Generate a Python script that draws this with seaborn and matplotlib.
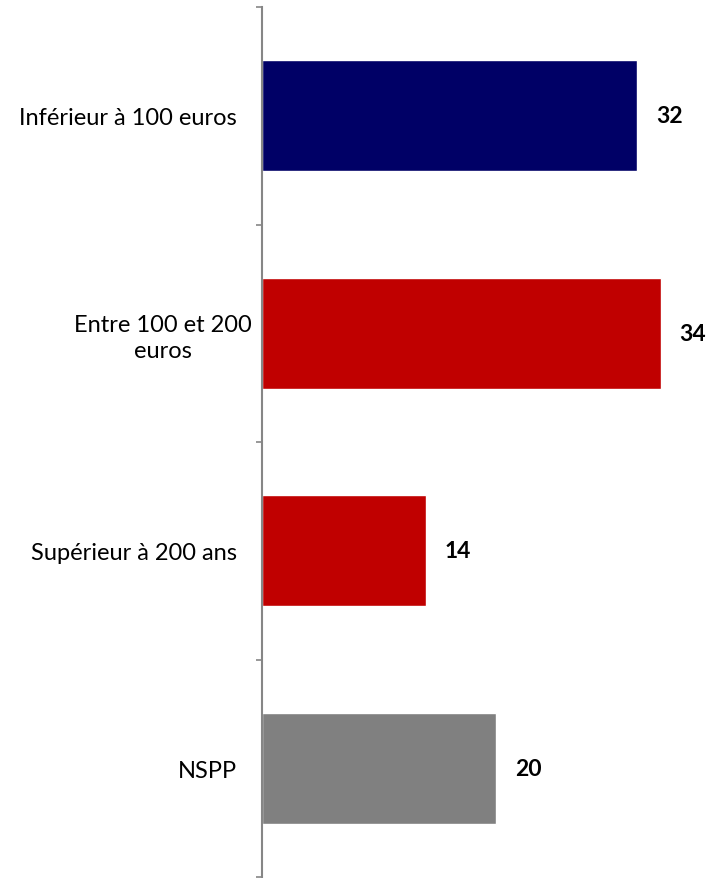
import matplotlib
matplotlib.use("Agg")
import matplotlib.pyplot as plt
import matplotlib.transforms as mtransforms
import seaborn as sns
import numpy as np

# data
categories = ["Inférieur à 100 euros", "Entre 100 et 200\neuros",
              "Supérieur à 200 ans", "NSPP"]
values = [32, 34, 14, 20]
colors = ["#000066", "#C00000", "#C00000", "#808080"]

sns.set_theme(style="white")
plt.rcParams["font.family"] = ["Lato", "DejaVu Sans"]

fig = plt.figure(figsize=(7.08, 8.79), dpi=100)
ax = fig.add_axes([262 / 708, 1 - 878 / 879, 1 - 262 / 708, 870 / 879])

sns.barplot(x=values, y=categories, hue=categories, palette=colors,
            legend=False, width=0.51, saturation=1, ax=ax)

for cont in ax.containers:
    ax.bar_label(cont, padding=13.5, fontsize=16.5, fontweight="bold", color="black")

ax.set_xlim(0, 38.05)
ax.set_ylim(3.5, -0.5)
ax.set_xlabel("")
ax.set_ylabel("")
ax.set_xticks([])

# category labels on centers, tick marks on boundaries
ax.set_yticks(range(len(categories)))
ax.set_yticklabels(categories, fontsize=17, color="black",
                   multialignment="center", linespacing=1.3)
ax.tick_params(axis="y", which="major", length=0, pad=18)
ax.set_yticks(np.arange(-0.5, len(categories), 1), minor=True)
ax.tick_params(axis="y", which="minor", left=True, length=4, width=1.2, color="#868686")

# the wrapped label sits a little further right in the original
lab = ax.get_yticklabels()[1]
lab.set_transform(lab.get_transform() + mtransforms.ScaledTranslation(15 / 100, 0, fig.dpi_scale_trans))

for s in ["top", "right", "bottom"]:
    ax.spines[s].set_visible(False)
ax.spines["left"].set_color("#868686")
ax.spines["left"].set_linewidth(1.5)

fig.savefig("out.png", dpi=100)
